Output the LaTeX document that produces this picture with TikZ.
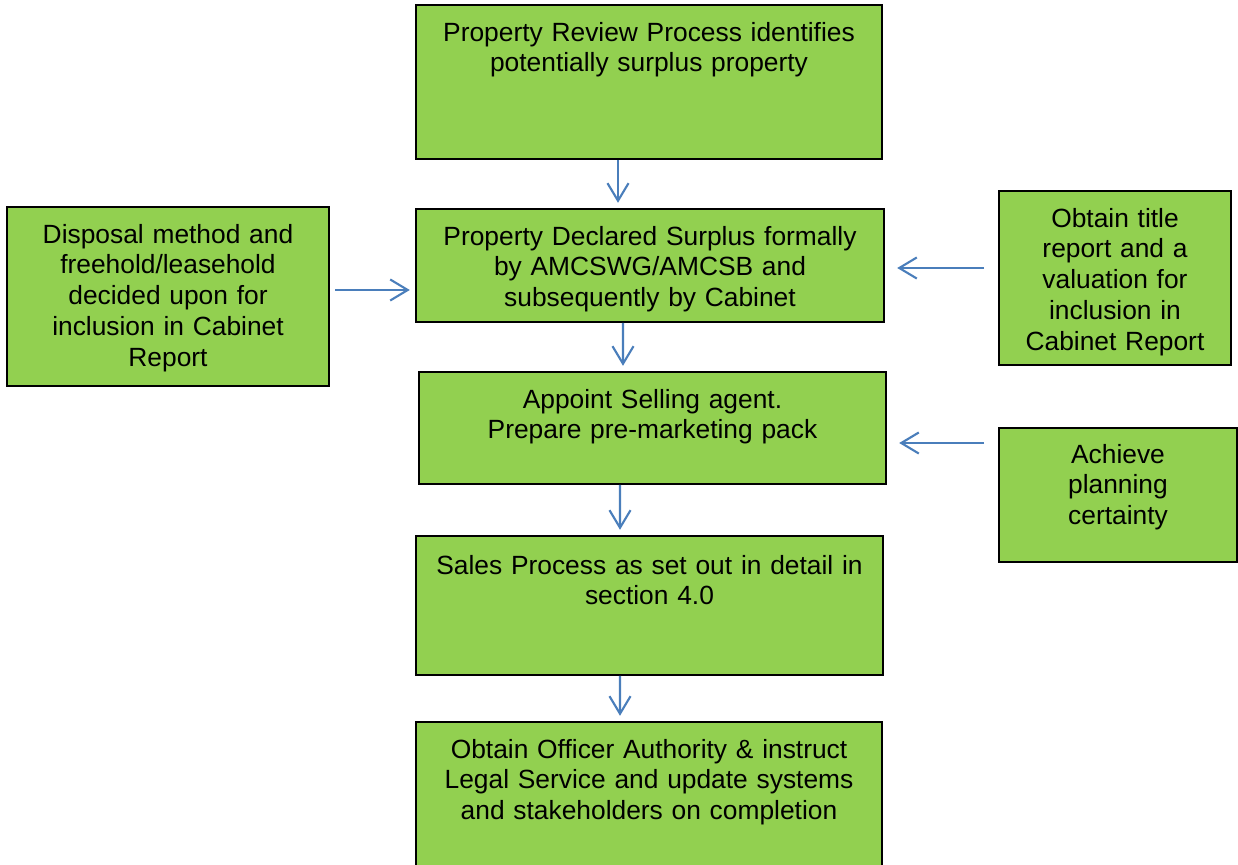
\documentclass[tikz,border=0pt]{standalone}
\usepackage{fontspec}
\setmainfont{Liberation Sans}
\usetikzlibrary{arrows.meta}

\definecolor{stagegreen}{HTML}{92D050}
\definecolor{flowblue}{HTML}{4A7EBB}

\begin{document}
\begin{tikzpicture}[
            x=0.02cm,y=-0.02cm,
            stage/.style={draw,fill=stagegreen,line width=1.1pt,align=center,inner xsep=0.1cm,inner ysep=0pt,
                          text height=0.72cm,font=\fontsize{15}{17.6}\selectfont},
            flow/.style={draw,flowblue,line width=1.2pt,-{Straight Barb[length=10pt,width=12pt,line width=1.2pt]}}
          ]
          \useasboundingbox (0,0) rectangle (1238,865);

          %main chain
          \node[stage,text width=9.12cm,text height=0.72cm,text depth=2.36cm] (review) at (649,82)
               {Property Review Process identifies\\potentially surplus property};
          \node[stage,text width=9.16cm,text depth=1.54cm] (declared) at (650,265.5)
               {Property Declared Surplus formally\\by AMCSWG/AMCSB and\\subsequently by Cabinet};
          \node[stage,text width=9.14cm,text depth=1.52cm] (appoint) at (652.5,428)
               {Appoint Selling agent.\\Prepare pre-marketing pack};
          \node[stage,text width=9.14cm,text height=0.76cm,text depth=2.02cm] (sales) at (649.5,605.5)
               {Sales Process as set out in detail in\\section 4.0};
          \node[stage,text width=9.12cm,text depth=2.34cm] (officer) at (649,798.5)
               {Obtain Officer Authority \& instruct\\Legal Service and update systems\\and stakeholders on completion};

          %side boxes
          \node[stage,text width=6.24cm,text depth=2.86cm] (disposal) at (168,296.5)
               {Disposal method and\\freehold/leasehold\\decided upon for\\inclusion in Cabinet\\Report};
          \node[stage,text width=4.44cm,text depth=2.76cm] (title) at (1115,278)
               {Obtain title\\report and a\\valuation for\\inclusion in\\Cabinet Report};
          \node[stage,text width=4.56cm,text height=0.70cm,text depth=1.98cm] (planning) at (1118,495)
               {Achieve\\planning\\certainty};

          %arrows
          \draw[flow,shorten >=3pt] ([xshift=-0.62cm]review.south) -- ([xshift=-0.64cm]declared.north);
          \draw[flow,shorten >=3pt] ([xshift=-0.54cm]declared.south) -- ([xshift=-0.59cm]appoint.north);
          \draw[flow,shorten >=3pt] ([xshift=-0.65cm]appoint.south) -- ([xshift=-0.59cm]sales.north);
          \draw[flow,shorten >=3pt] ([xshift=-0.59cm]sales.south) -- ([xshift=-0.58cm]officer.north);
          \draw[flow,shorten <=3pt,shorten >=3pt] ([yshift=0.13cm]disposal.east) -- ([yshift=0.13cm]disposal.east -| declared.west);
          \draw[flow,shorten <=8pt,shorten >=7pt] ([yshift=0.20cm]title.west) -- ([yshift=0.20cm]title.west -| declared.east);
          \draw[flow,shorten <=8pt,shorten >=7pt] ([yshift=1.04cm]planning.west) -- ([yshift=1.04cm]planning.west -| appoint.east);
\end{tikzpicture}
\end{document}
